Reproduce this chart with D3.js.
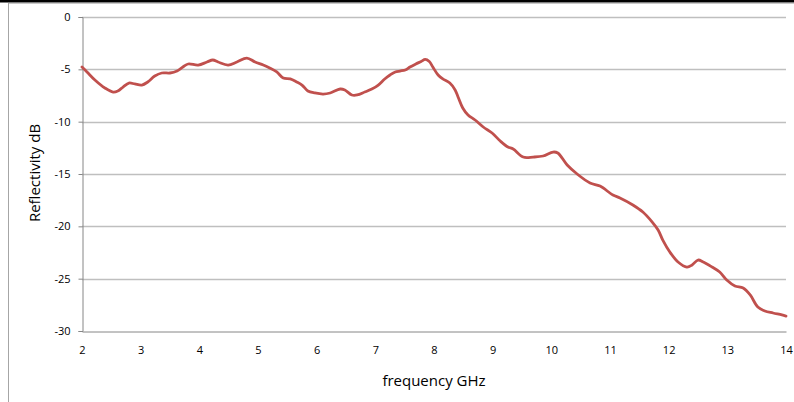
<!DOCTYPE html>
<html>
<head>
<meta charset="utf-8">
<script src="https://cdn.jsdelivr.net/npm/d3@7"></script>
<style>
  html, body { margin: 0; padding: 0; background: #fff; }
  svg { display: block; }
  text { font-family: "Open Sans", "Liberation Sans", sans-serif; fill: #000; }
</style>
</head>
<body>
<svg id="chart" width="794" height="402"></svg>
<script>
const frequencyGHz = [2.00,2.085,2.22,2.39,2.53,2.61,2.70,2.80,2.90,3.02,3.12,3.24,3.36,3.50,3.62,3.72,3.81,3.98,4.13,4.23,4.32,4.49,4.64,4.81,4.95,5.09,5.20,5.32,5.43,5.55,5.66,5.75,5.85,5.97,6.11,6.23,6.40,6.48,6.60,6.69,6.82,6.94,7.05,7.16,7.25,7.34,7.42,7.51,7.59,7.69,7.78,7.85,7.92,7.98,8.07,8.15,8.27,8.36,8.41,8.49,8.58,8.70,8.84,8.99,9.13,9.26,9.35,9.52,9.69,9.86,10.03,10.11,10.27,10.44,10.66,10.83,11.05,11.17,11.39,11.56,11.72,11.82,11.90,12.02,12.16,12.31,12.40,12.50,12.59,12.74,12.87,12.99,13.13,13.27,13.39,13.52,13.64,13.78,13.93,14.00];
const reflectivityDB = [-4.78,-5.25,-6.02,-6.78,-7.17,-7.07,-6.69,-6.31,-6.40,-6.50,-6.21,-5.64,-5.35,-5.35,-5.16,-4.78,-4.49,-4.59,-4.30,-4.11,-4.30,-4.59,-4.30,-3.92,-4.30,-4.59,-4.87,-5.25,-5.83,-5.92,-6.21,-6.50,-7.07,-7.26,-7.36,-7.26,-6.88,-6.97,-7.45,-7.45,-7.17,-6.88,-6.50,-5.92,-5.54,-5.25,-5.16,-5.06,-4.78,-4.49,-4.25,-4.05,-4.25,-4.78,-5.54,-5.92,-6.31,-6.97,-7.64,-8.69,-9.36,-9.84,-10.51,-11.08,-11.85,-12.42,-12.61,-13.38,-13.38,-13.28,-12.90,-12.99,-14.14,-15.00,-15.86,-16.15,-17.01,-17.29,-17.96,-18.63,-19.59,-20.35,-21.31,-22.45,-23.41,-23.89,-23.69,-23.22,-23.41,-23.89,-24.36,-25.13,-25.70,-25.89,-26.56,-27.71,-28.09,-28.28,-28.47,-28.57];
const xTicks = [2,3,4,5,6,7,8,9,10,11,12,13,14];
const yTicks = [0,-5,-10,-15,-20,-25,-30];
const xTitle = "frequency GHz";
const yTitle = "Reflectivity dB";

const svg = d3.select("#chart");
const mLeft = 82, mRight = 786, mTop = 17, mBottom = 331;

const x = d3.scaleLinear().domain([2, 14]).range([mLeft, mRight]);
const y = d3.scaleLinear().domain([-30, 0]).range([mBottom, mTop]);

// outer frame
svg.append("rect").attr("x", 0).attr("y", 0).attr("width", 794).attr("height", 2.5).attr("fill", "#000");
svg.append("line").attr("x1", 8).attr("x2", 794).attr("y1", 3.5).attr("y2", 3.5)
  .attr("stroke", "#c8c8c8").attr("stroke-width", 1);
svg.append("line").attr("x1", 8.5).attr("x2", 8.5).attr("y1", 3).attr("y2", 402)
  .attr("stroke", "#a6a6a6").attr("stroke-width", 1);

// gridlines
svg.append("g").selectAll("line").data(yTicks.filter(d => d !== -30)).join("line")
  .attr("x1", mLeft).attr("x2", mRight)
  .attr("y1", d => Math.round(y(d)) + 0.5).attr("y2", d => Math.round(y(d)) + 0.5)
  .attr("stroke", "#bfbfbf").attr("stroke-width", 1.3);

// y axis
const yAxis = svg.append("g").attr("transform", `translate(${mLeft + 0.5},0)`)
  .call(d3.axisLeft(y).tickValues(yTicks).tickSize(4).tickPadding(8).tickFormat(d => String(d)));
yAxis.select(".domain").attr("stroke", "#868686");
yAxis.selectAll(".tick line").attr("stroke", "#868686");
yAxis.selectAll(".tick text").attr("font-size", 11).attr("font-family", "Open Sans, sans-serif").attr("fill", "#000");

// x axis
const xAxis = svg.append("g").attr("transform", `translate(0,${Math.round(mBottom) + 0.5})`)
  .call(d3.axisBottom(x).tickValues(xTicks).tickSize(0).tickPadding(15).tickFormat(d => String(d)));
xAxis.select(".domain").attr("stroke", "#868686");
xAxis.selectAll(".tick text").attr("font-size", 11).attr("font-family", "Open Sans, sans-serif").attr("fill", "#000");

// line
const pts = frequencyGHz.map((f, i) => [f, reflectivityDB[i]]);
svg.append("path").datum(pts)
  .attr("fill", "none").attr("stroke", "#c0504d").attr("stroke-width", 2.8)
  .attr("stroke-linejoin", "round").attr("stroke-linecap", "round")
  .attr("d", d3.line().x(d => x(d[0])).y(d => y(d[1])).curve(d3.curveCatmullRom.alpha(0.5)));

// titles
svg.append("text").attr("x", 434).attr("y", 386)
  .attr("text-anchor", "middle").attr("font-size", 15).text(xTitle);
svg.append("text").attr("transform", `translate(40,173) rotate(-90)`)
  .attr("text-anchor", "middle").attr("font-size", 15).text(yTitle);
</script>
</body>
</html>
